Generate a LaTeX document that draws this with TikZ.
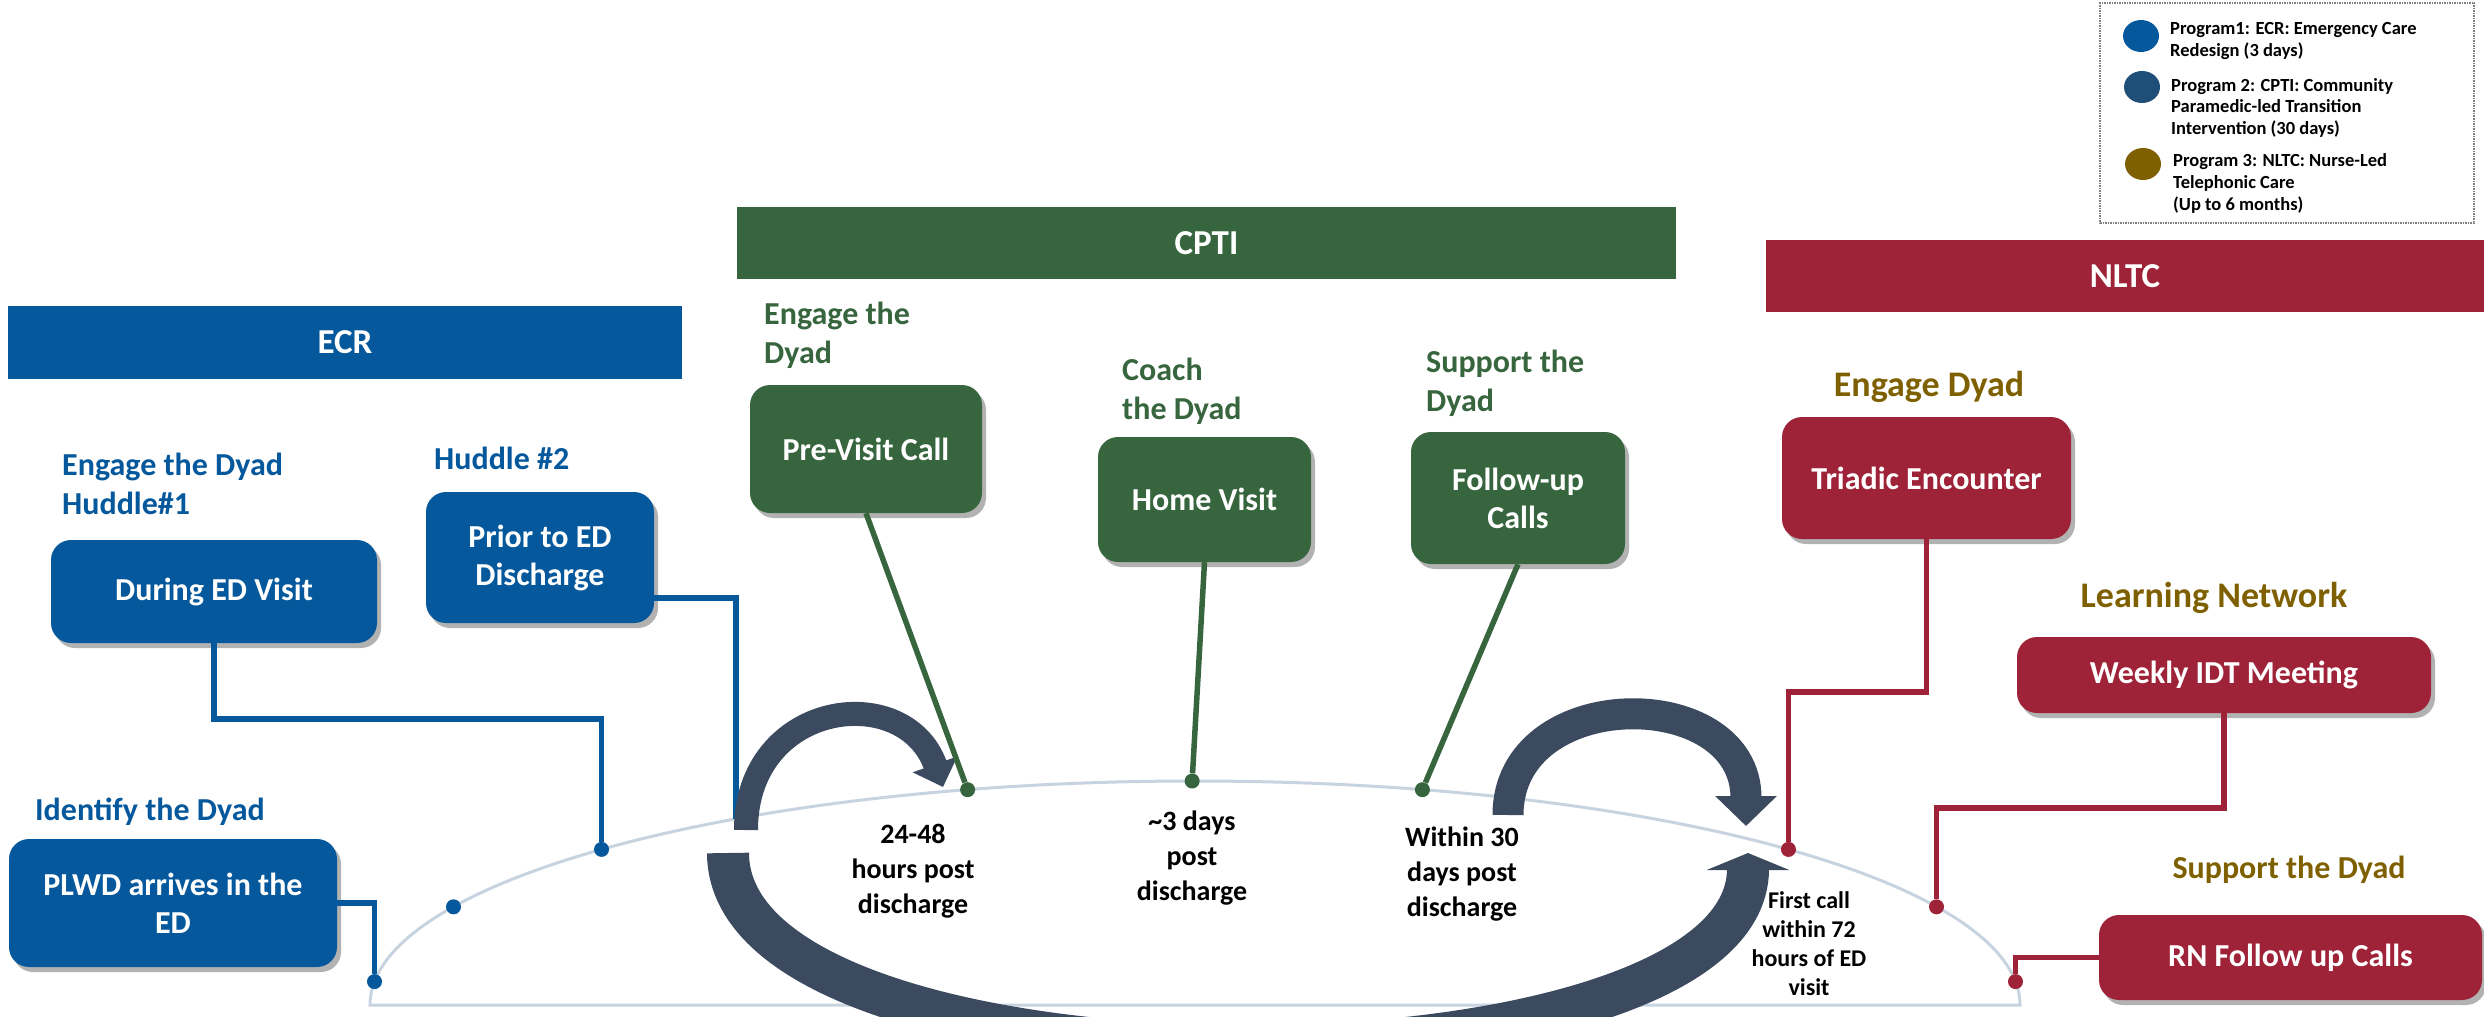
\documentclass[tikz,border=0pt]{standalone}
\usepackage{fontspec}
\setmainfont{Carlito}
\usetikzlibrary{arrows.meta,calc,shadows,shapes.geometric}
\definecolor{ecrblue}{RGB}{5,88,155}
\definecolor{cptigreen}{RGB}{55,101,61}
\definecolor{nltcred}{RGB}{158,35,56}
\definecolor{nltcolive}{RGB}{127,96,0}
\definecolor{cptinavy}{RGB}{31,78,121}
\definecolor{arrowslate}{RGB}{60,74,96}
\definecolor{arcgray}{RGB}{200,211,224}

\begin{document}
\begin{tikzpicture}[x=1pt,y=-1pt]
    \tikzset{bar/.style = {fill=#1, text=white, inner sep=0,
        font=\fontsize{35}{42}\selectfont\bfseries}}
    \tikzset{card/.style = {fill=#1, text=white, rounded corners=20pt,
        align=center, inner sep=0, font=\fontsize{32}{38}\selectfont\bfseries,
        drop shadow={shadow xshift=4pt, shadow yshift=-5pt, opacity=0.3, fill=black}}}
    \tikzset{steplabel/.style = {text=#1, anchor=west, align=left, inner sep=0,
        font=\fontsize{32}{39}\selectfont\bfseries}}
    \tikzset{timelabel/.style = {align=center, inner sep=0,
        font=\fontsize{28}{35}\selectfont\bfseries}}
    \tikzset{dot/.style = {circle, fill=#1, inner sep=0, minimum size=15pt}}
    \tikzset{link/.style = {draw=#1, line width=5.5pt}}
    \tikzset{bigarrow/.style = {draw=arrowslate, line width=#1}}
    \tikzset{legtext/.style = {anchor=west, align=left, inner sep=0,
        font=\fontsize{18.5}{21.7}\selectfont\bfseries}}
    \useasboundingbox (0,0) rectangle (2484,1017);
    \clip (0,0) rectangle (2484,1017);

    % timeline
    \coordinate (arcc) at (1195,1005);
    \draw[arcgray, line width=3pt] (arcc) ++(180:825 and 224)
        arc[start angle=180, end angle=360, x radius=825, y radius=224] -- cycle;

    % headers
    \node[bar=ecrblue, minimum width=674, minimum height=73] (ecr) at (345,342.5) {ECR};
    \node[bar=cptigreen, minimum width=939, minimum height=72] (cpti) at (1206.5,243) {CPTI};
    \node[bar=nltcred, minimum width=718, minimum height=72] (nltc) at (2125,276) {NLTC};

    % boxes
    \node[card=ecrblue, minimum width=326, minimum height=103] (dur) at (214,591.5) {During ED Visit};
    \node[card=ecrblue, minimum width=228, minimum height=131] (pri) at (540,557.5) {Prior to ED\\Discharge};
    \node[card=ecrblue, minimum width=328, minimum height=128] (plwd) at (173,903) {PLWD arrives in the\\ED};
    \node[card=cptigreen, minimum width=232, minimum height=128] (pre) at (866,449) {Pre-Visit Call};
    \node[card=cptigreen, minimum width=213, minimum height=125] (home) at (1204.5,499.5) {Home Visit};
    \node[card=cptigreen, minimum width=214, minimum height=132] (fol) at (1518,498) {Follow-up\\Calls};
    \node[card=nltcred, minimum width=289, minimum height=122] (tri) at (1926.5,478) {Triadic Encounter};
    \node[card=nltcred, minimum width=414, minimum height=76] (wk) at (2224,675) {Weekly IDT Meeting};
    \node[card=nltcred, minimum width=383, minimum height=85] (rn) at (2290.5,957.5) {RN Follow up Calls};

    % labels
    \node[steplabel=ecrblue] (l1) at (62,483.5) {Engage the Dyad\\Huddle\#1};
    \node[steplabel=ecrblue] (l2) at (434,458) {Huddle \#2};
    \node[steplabel=ecrblue] (l3) at (35,812) {Identify the Dyad};
    \node[steplabel=cptigreen] (l4) at (764,335.5) {Engage the\\Dyad};
    \node[steplabel=cptigreen] (l5) at (1122,391) {Coach\\the Dyad};
    \node[steplabel=cptigreen] (l6) at (1426,383) {Support the\\Dyad};
    \node[text=nltcolive, inner sep=0, font=\fontsize{36}{42}\selectfont\bfseries] (l7) at (1929,387) {Engage Dyad};
    \node[text=nltcolive, inner sep=0, font=\fontsize{36}{42}\selectfont\bfseries] (l8) at (2214,598) {Learning Network};
    \node[text=nltcolive, inner sep=0, font=\fontsize{32}{38}\selectfont\bfseries] (l9) at (2289,870) {Support the Dyad};

    % times
    \node[timelabel] (t1) at (913,871.5) {24-48\\hours post\\discharge};
    \node[timelabel] (t2) at (1192,858.5) {\textasciitilde3 days\\post\\discharge};
    \node[timelabel] (t3) at (1462,874) {Within 30\\days post\\discharge};
    \node[timelabel, font=\fontsize{24}{29}\selectfont\bfseries] (t4) at (1809,943.5) {First call\\within 72\\hours of ED\\visit};

    % dots
    \node[dot=ecrblue] (b1) at ($(arcc)+(-174:825 and 224)$) {};
    \node[dot=ecrblue] (b2) at ($(arcc)+(-154:825 and 224)$) {};
    \node[dot=ecrblue] (b3) at ($(arcc)+(-136:825 and 224)$) {};
    \coordinate (b4) at ($(arcc)+(-123.8:825 and 224)$);
    \node[dot=cptigreen] (g1) at ($(arcc)+(-106:825 and 224)$) {};
    \node[dot=cptigreen] (g2) at ($(arcc)+(-90.2:825 and 224)$) {};
    \node[dot=cptigreen] (g3) at ($(arcc)+(-74:825 and 224)$) {};
    \node[dot=nltcred] (r1) at ($(arcc)+(-44:825 and 224)$) {};
    \node[dot=nltcred] (r2) at ($(arcc)+(-26:825 and 224)$) {};
    \node[dot=nltcred] (r3) at ($(arcc)+(-6:825 and 224)$) {};

    %edges
    \draw[link=ecrblue] (plwd.east) -| (b1);
    \draw[link=ecrblue] (dur.south) -- ++(0,76) -| (b3);
    \draw[link=ecrblue] ($(pri.south east)+(0,-25)$) -| (b4);

    % arrows
    \coordinate (a1s) at (746,830);
    \coordinate (a1e) at (943,787);
    \coordinate (a2s) at (728,853);
    \coordinate (a2e) at (1748,853);
    \coordinate (a3s) at (1508,815);
    \coordinate (a3e) at (1746,826);
    \draw[bigarrow=24pt, -{Triangle[width=46pt,length=24pt]}] (a1s) .. controls (746,700) and (905,680) .. (a1e);
    \draw[bigarrow=42pt, -{Triangle[width=82pt,length=17pt]}] (a2s) .. controls (728,1110) and (1748,1106) .. (a2e);
    \draw[bigarrow=31pt, -{Triangle[width=60pt,length=30pt]}] (a3s) .. controls (1508,683) and (1746,683) .. (a3e);

    \draw[link=cptigreen] (pre.south) -- (g1);
    \draw[link=cptigreen] (home.south) -- (g2);
    \draw[link=cptigreen] (fol.south) -- (g3);
    \draw[link=nltcred] (tri.south) -- ++(0,153) -| (r1);
    \draw[link=nltcred] (wk.south) -- ++(0,95) -| (r2);
    \draw[link=nltcred] (rn.west) -| (r3);

    % legend
    \node[draw=gray, densely dotted, line width=1.5pt, minimum width=374, minimum height=220, inner sep=0] (legend) at (2287,113) {};
    \node[ellipse, fill=ecrblue, minimum width=36, minimum height=32, inner sep=0] (k1) at (2141,36) {};
    \node[ellipse, fill=cptinavy, minimum width=36, minimum height=32, inner sep=0] (k2) at (2142,87) {};
    \node[ellipse, fill=nltcolive, minimum width=36, minimum height=32, inner sep=0] (k3) at (2143,164) {};
    \node[legtext] (m1) at (2170,41) {Program1: ECR: Emergency Care\\Redesign (3 days)};
    \node[legtext] (m2) at (2171,107.7) {Program 2: CPTI: Community\\Paramedic-led Transition\\Intervention (30 days)};
    \node[legtext] (m3) at (2173,183.3) {Program 3: NLTC: Nurse-Led\\Telephonic Care\\(Up to 6 months)};
\end{tikzpicture}
\end{document}
